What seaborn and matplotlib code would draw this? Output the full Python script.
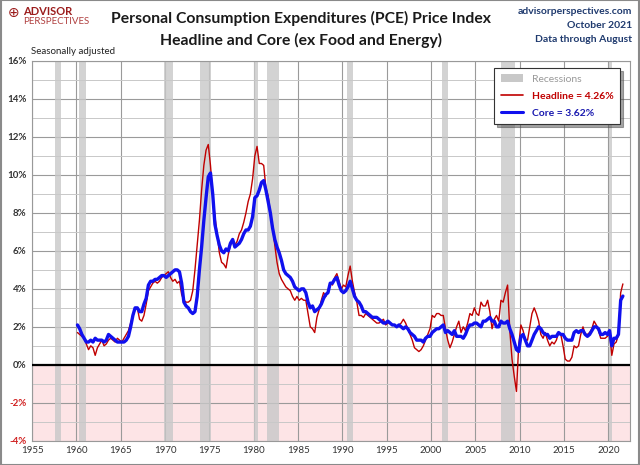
import numpy as np
import pandas as pd
import matplotlib
matplotlib.use("Agg")
import matplotlib.pyplot as plt
from matplotlib.patches import Patch
from matplotlib.lines import Line2D
import seaborn as sns

# ---------------- data (quarterly YoY %) ----------------
headline = [
    1.7, 1.6, 1.5, 1.4,  1.1, 0.8, 1.0, 0.9,  0.5, 0.9, 1.1, 1.3,  1.0, 1.1, 1.3, 1.4,
    1.3, 1.2, 1.4, 1.3,  1.2, 1.4, 1.6, 1.8,  2.2, 2.6, 2.9, 3.0,  2.4, 2.3, 2.6, 3.2,
    3.9, 4.1, 4.3, 4.4,  4.3, 4.4, 4.6, 4.7,  4.8, 4.9, 4.6, 4.4,  4.5, 4.3, 4.4, 3.7,
    3.4, 3.3, 3.3, 3.4,  3.9, 5.0, 6.3, 7.6,  9.2, 10.5, 11.3, 11.6,  10.5, 9.0, 7.8, 6.9,
    5.9, 5.4, 5.3, 5.1,  5.8, 6.3, 6.6, 6.3,  6.5, 6.9, 7.1, 7.5,  8.0, 8.6, 9.0, 9.8,
    11.0, 11.5, 10.6, 10.6,  10.5, 9.3, 8.9, 8.0,  7.3, 6.3, 5.4, 4.8,  4.5, 4.3, 4.1, 4.0,
    3.9, 3.6, 3.4, 3.6,  3.4, 3.5, 3.4, 3.4,  2.7, 2.0, 1.9, 1.7,  2.5, 2.9, 3.4, 3.8,
    3.6, 3.9, 4.3, 4.2,  4.6, 4.8, 4.4, 4.0,  4.2, 4.1, 4.7, 5.2,  4.4, 3.8, 3.3, 2.6,
    2.6, 2.5, 2.7, 2.6,  2.5, 2.4, 2.3, 2.2,  2.2, 2.3, 2.4, 2.1,  2.2, 2.2, 2.1, 2.1,
    2.0, 2.1, 2.2, 2.4,  2.2, 1.9, 1.6, 1.3,  0.9, 0.8, 0.7, 0.8,  1.0, 1.3, 1.6, 1.9,
    2.6, 2.5, 2.7, 2.7,  2.6, 2.6, 1.9, 1.3,  0.9, 1.2, 1.6, 2.0,  2.3, 1.7, 2.0, 1.8,
    2.2, 2.7, 2.6, 3.0,  2.7, 2.6, 3.3, 3.1,  3.1, 3.4, 2.8, 1.9,  2.4, 2.6, 2.3, 3.4,
    3.3, 3.8, 4.2, 1.8,  0.3, -0.6, -1.4, 1.0,  2.1, 1.8, 1.3, 1.3,  2.0, 2.7, 3.0, 2.7,
    2.3, 1.6, 1.4, 1.7,  1.3, 1.0, 1.2, 1.1,  1.3, 1.7, 1.6, 1.0,  0.3, 0.2, 0.2, 0.4,
    1.0, 0.9, 1.0, 1.6,  2.0, 1.6, 1.6, 1.7,  1.9, 2.3, 2.1, 1.8,  1.4, 1.4, 1.4, 1.5,
    1.7, 0.5, 1.1, 1.2,  1.6, 3.8, 4.26,
]
core = [
    2.1, 1.9, 1.6, 1.4,  1.2, 1.2, 1.3, 1.2,  1.4, 1.3, 1.3, 1.3,  1.2, 1.3, 1.6, 1.5,
    1.4, 1.3, 1.2, 1.2,  1.2, 1.2, 1.3, 1.5,  2.0, 2.6, 3.0, 3.0,  2.8, 2.8, 3.2, 3.5,
    4.2, 4.4, 4.4, 4.5,  4.5, 4.6, 4.7, 4.7,  4.6, 4.7, 4.8, 4.9,  5.0, 5.0, 4.9, 4.3,
    3.3, 3.1, 3.0, 2.8,  2.7, 2.8, 3.6, 5.0,  6.2, 7.6, 8.8, 9.9,  10.1, 9.0, 7.4, 6.8,
    6.3, 6.0, 5.9, 6.1,  6.0, 6.4, 6.6, 6.2,  6.3, 6.4, 6.6, 6.9,  7.1, 7.1, 7.3, 7.8,
    8.8, 8.9, 9.2, 9.6,  9.7, 9.2, 8.6, 8.0,  7.2, 6.6, 6.2, 5.9,  5.5, 5.0, 4.8, 4.7,
    4.6, 4.4, 4.1, 4.0,  3.9, 4.0, 4.0, 3.8,  3.3, 3.0, 3.1, 2.8,  2.9, 3.0, 3.2, 3.5,
    3.7, 3.8, 4.3, 4.3,  4.5, 4.6, 4.2, 3.9,  3.8, 3.9, 4.1, 4.4,  4.0, 3.6, 3.4, 3.3,
    3.1, 2.8, 2.8, 2.7,  2.6, 2.5, 2.5, 2.5,  2.4, 2.3, 2.2, 2.2,  2.3, 2.2, 2.1, 2.1,
    2.0, 2.1, 2.0, 1.9,  2.0, 1.9, 1.7, 1.6,  1.5, 1.3, 1.3, 1.3,  1.2, 1.4, 1.5, 1.5,
    1.7, 1.8, 1.9, 1.9,  2.0, 2.1, 1.7, 1.8,  1.7, 1.6, 1.8, 1.5,  1.5, 1.5, 1.4, 1.6,
    1.9, 2.1, 2.1, 2.2,  2.2, 2.1, 2.0, 2.3,  2.3, 2.4, 2.5, 2.3,  2.3, 2.0, 2.0, 2.3,
    2.2, 2.2, 2.3, 1.9,  1.6, 1.2, 0.8, 0.7,  1.5, 1.6, 1.3, 1.0,  1.0, 1.3, 1.6, 1.8,
    2.0, 1.9, 1.7, 1.6,  1.6, 1.4, 1.5, 1.5,  1.5, 1.7, 1.6, 1.6,  1.4, 1.3, 1.3, 1.3,
    1.7, 1.8, 1.7, 1.8,  1.8, 1.6, 1.5, 1.6,  1.8, 2.0, 2.0, 1.9,  1.6, 1.6, 1.7, 1.6,
    1.8, 1.0, 1.4, 1.4,  1.6, 3.4, 3.62,
]
rec_start = [1957.6, 1960.3, 1969.9, 1973.9, 1980.0, 1981.5, 1990.5, 2001.2, 2007.9, 2020.1]
rec_end   = [1958.3, 1961.1, 1970.9, 1975.2, 1980.5, 1982.9, 1991.2, 2001.9, 2009.5, 2020.35]
x_ticks = [1955, 1960, 1965, 1970, 1975, 1980, 1985, 1990, 1995, 2000, 2005, 2010, 2015, 2020]
y_ticks = [-4, -2, 0, 2, 4, 6, 8, 10, 12, 14, 16]
labels = ["Headline = 4.26%", "Core = 3.62%"]

periods = pd.period_range("1960Q1", "2021Q3", freq="Q")
year = periods.year + (periods.quarter - 1) / 4 + 0.125
df = pd.DataFrame({
    "year": np.concatenate([year, year]),
    "value": headline + core,
    "series": ["Headline"] * len(headline) + ["Core"] * len(core),
})

# ---------------- style ----------------
sns.set_style("white")
plt.rcParams["font.family"] = ["Lato", "DejaVu Sans"]

RED = "#c00000"
BLUE = "#1010ee"

fig = plt.figure(figsize=(6.4, 4.65), dpi=100)
ax = fig.add_axes([0.05, 0.052, 0.934, 0.817])

ax.set_xlim(1955, 2022.4)
ax.set_ylim(-4, 16)

ax.axhspan(-4, 0, color="#fde4e6", zorder=0, lw=0)
for s, e in zip(rec_start, rec_end):
    ax.axvspan(s, e, color="#c8c8c8", alpha=0.8, zorder=1, lw=0)

ax.set_yticks(y_ticks)
ax.set_yticks(np.arange(-3, 16, 2), minor=True)
ax.set_xticks(x_ticks)
ax.grid(which="major", axis="both", color="#9a9a9a", lw=0.8, zorder=0.5)
ax.grid(which="minor", axis="y", color="#c8c8c8", lw=0.7, zorder=0.5)
ax.set_axisbelow(True)
ax.axhline(0, color="black", lw=1.6, zorder=3)

sns.lineplot(data=df[df.series == "Core"], x="year", y="value", color=BLUE,
             lw=2.4, ax=ax, zorder=6, legend=False)
sns.lineplot(data=df[df.series == "Headline"], x="year", y="value", color=RED,
             lw=1.0, ax=ax, zorder=5, legend=False)

ax.set_xlabel("")
ax.set_ylabel("")
ax.set_yticklabels([f"{v}%" for v in y_ticks])
ax.tick_params(axis="both", length=0, labelsize=7, colors="#333333", pad=4)
for lbl, v in zip(ax.get_yticklabels(), y_ticks):
    lbl.set_fontweight("bold")
    lbl.set_color("#d02020" if v < 0 else "#333333")
for sp in ax.spines.values():
    sp.set_color("#999999")
    sp.set_linewidth(0.8)

handles = [Patch(facecolor="#c8c8c8", edgecolor="none"),
           Line2D([0], [0], color=RED, lw=1.2),
           Line2D([0], [0], color=BLUE, lw=2.2)]
leg = ax.legend(handles, ["Recessions"] + labels, loc="upper right",
                bbox_to_anchor=(0.992, 0.995), frameon=True, fancybox=False,
                shadow=True, edgecolor="#333333", fontsize=7.5,
                labelcolor=["#999999", RED, "#1a1ab0"], handlelength=2.2,
                borderpad=0.6, labelspacing=0.75, framealpha=1)
for t in leg.get_texts()[1:]:
    t.set_fontweight("bold")
leg.get_frame().set_linewidth(0.8)
leg.set_zorder(10)

fig.text(0.47, 0.961, "Personal Consumption Expenditures (PCE) Price Index",
         ha="center", va="center", fontsize=11.3, fontweight="bold", color="#1a1a1a")
fig.text(0.47, 0.914, "Headline and Core (ex Food and Energy)",
         ha="center", va="center", fontsize=11.3, fontweight="bold", color="#1a1a1a")
fig.text(0.988, 0.976, "advisorperspectives.com", ha="right", va="center",
         fontsize=7.5, fontweight="bold", color="#1f3a6e")
fig.text(0.988, 0.946, "October 2021", ha="right", va="center",
         fontsize=7.5, fontweight="bold", color="#1f3a6e")
fig.text(0.988, 0.916, "Data through August", ha="right", va="center",
         fontsize=7.5, fontweight="bold", color="#1f3a6e")
fig.text(0.048, 0.89, "Seasonally adjusted", ha="left", va="center",
         fontsize=7, color="#222222")
fig.text(0.012, 0.972, "\u2295", ha="left", va="center", fontsize=10,
         color="#9b1c1c", family="DejaVu Sans")
fig.text(0.036, 0.975, "ADVISOR", ha="left", va="center", fontsize=8,
         fontweight="bold", color="#9b1c1c")
fig.text(0.036, 0.953, "PERSPECTIVES", ha="left", va="center", fontsize=7,
         color="#b04040")

fig.patches.append(plt.Rectangle((0.001, 0.001), 0.998, 0.998, transform=fig.transFigure,
                                 fill=False, edgecolor="#8a8a8a", lw=1.5))

fig.savefig("out.png", dpi=100)
